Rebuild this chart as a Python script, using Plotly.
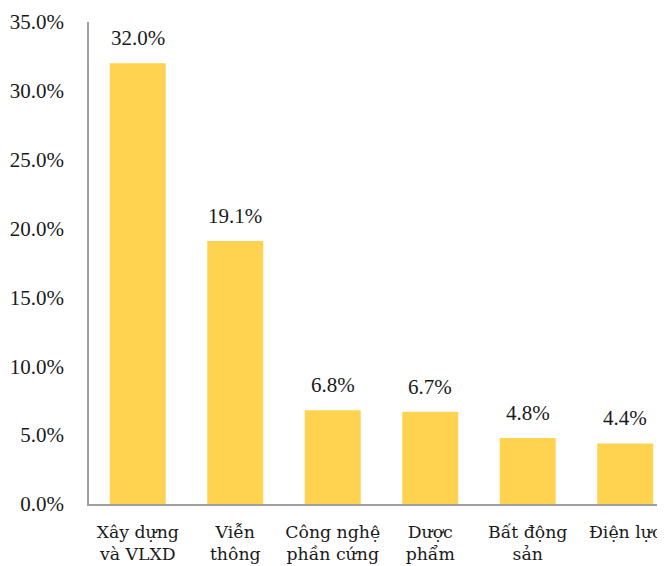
import plotly.graph_objects as go

categories = ["Xây dựng<br>và VLXD", "Viễn<br>thông", "Công nghệ<br>phần cứng", "Dược<br>phẩm", "Bất động<br>sản", "Điện lực"]
values = [32.0, 19.1, 6.8, 6.7, 4.8, 4.4]
value_labels = ["32.0%", "19.1%", "6.8%", "6.7%", "4.8%", "4.4%"]
y_ticks = [0, 5, 10, 15, 20, 25, 30, 35]
y_tick_labels = ["0.0%", "5.0%", "10.0%", "15.0%", "20.0%", "25.0%", "30.0%", "35.0%"]

FONT = "Times New Roman"
FONT2 = "DejaVu Serif"
xs = list(range(len(categories)))

fig = go.Figure()
fig.add_trace(go.Bar(x=xs, y=values, marker=dict(color="#FFD34F", line=dict(width=0)),
                     hoverinfo="skip"))

for x, v, t in zip(xs, values, value_labels):
    fig.add_annotation(x=x, y=v, text=t, showarrow=False, yanchor="bottom", yshift=11,
                       font=dict(family=FONT, size=21, color="#1a1a1a"))

fig.update_layout(
    width=665, height=566,
    margin=dict(l=81, r=0, t=14, b=70),
    plot_bgcolor="white", paper_bgcolor="white",
    bargap=0.426,
    showlegend=False,
    font=dict(family=FONT, size=21, color="#1a1a1a"),
)
fig.update_xaxes(
    tickmode="array", tickvals=xs, ticktext=categories,
    range=[-0.5, 5.49], automargin=False,
    showline=True, linecolor="#A0A0A0", linewidth=1.5,
    showgrid=False, zeroline=False, ticks="",
    ticklabelstandoff=11,
    tickfont=dict(family=FONT2, size=17.3, color="#1a1a1a"),
)
fig.update_yaxes(
    tickmode="array", tickvals=y_ticks, ticktext=y_tick_labels,
    range=[0, 35], automargin=False,
    showline=True, linecolor="#A0A0A0", linewidth=1.5,
    showgrid=False, zeroline=False, ticks="",
    ticklabelstandoff=19,
    tickfont=dict(family=FONT, size=21, color="#1a1a1a"),
)

fig.write_html("out.html")
